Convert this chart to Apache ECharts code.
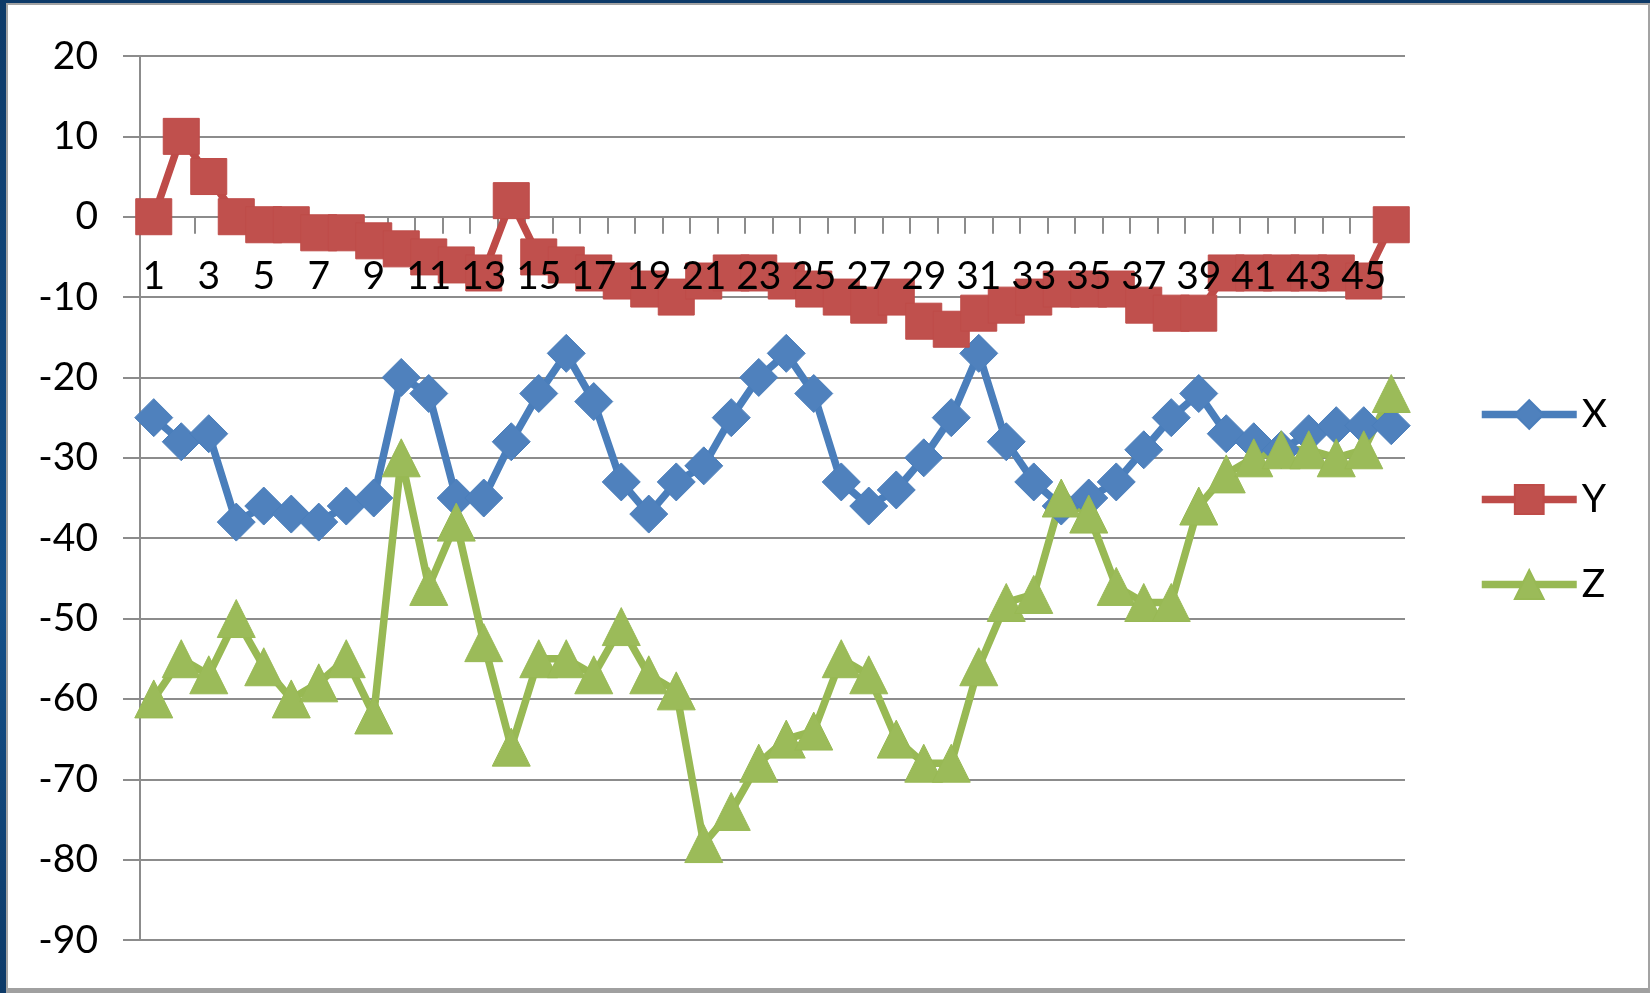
<!DOCTYPE html>
<html>
<head>
<meta charset="utf-8">
<title>X / Y / Z</title>
<script src="https://cdn.jsdelivr.net/npm/echarts@6/dist/echarts.min.js"></script>
<style>
  html, body { margin: 0; padding: 0; width: 1650px; height: 993px; overflow: hidden; }
  body { background: linear-gradient(180deg, #0d3a68 0%, #145089 60%, #0d3a68 100%); position: relative; }
  #frame {
    position: absolute; left: 6px; top: 3px; width: 1644px; height: 990px;
    background: #ffffff; border: 2px solid #a3a3a3; border-bottom: 5px solid #a0a0a0; box-sizing: border-box;
  }
  #chart { position: absolute; left: 0; top: 0; width: 1650px; height: 993px; }
</style>
</head>
<body>
<div id="frame"></div>
<div id="chart"></div>
<script>
// Sample index 1..46
const categories = Array.from({ length: 46 }, (_, i) => String(i + 1));

// Series values
const seriesX = [-25, -28, -27, -38, -36, -37, -38, -36, -35, -20,
                 -22, -35, -35, -28, -22, -17, -23, -33, -37, -33,
                 -31, -25, -20, -17, -22, -33, -36, -34, -30, -25,
                 -17, -28, -33, -36, -35, -33, -29, -25, -22, -27,
                 -28, -29, -27, -26, -26, -26];
const seriesY = [0, 10, 5, 0, -1, -1, -2, -2, -3, -4,
                 -5, -6, -7, 2, -5, -6, -7, -8, -9, -10,
                 -8, -7, -7, -8, -9, -10, -11, -10, -13, -14,
                 -12, -11, -10, -9, -9, -9, -11, -12, -12, -7,
                 -7, -7, -7, -7, -8, -1];
const seriesZ = [-60, -55, -57, -50, -56, -60, -58, -55, -62, -30,
                 -46, -38, -53, -66, -55, -55, -57, -51, -57, -59,
                 -78, -74, -68, -65, -64, -55, -57, -65, -68, -68,
                 -56, -48, -47, -35, -37, -46, -48, -48, -36, -32,
                 -30, -29, -29, -30, -29, -22];

// Value axis range
const yMin = -90;
const yMax = 20;
const yStep = 10;

const FONT = 'Lato, "Open Sans", sans-serif';
const FONT_SIZE = 39;
const GRID_GRAY = '#8c8c8c';
const TEXT = '#000000';
const LINE_W = 7.5;

// Plot box
const GRID = { left: 140, right: 245, top: 56, bottom: 53 };
const CHART_H = 993;
const plotHeight = CHART_H - GRID.top - GRID.bottom;
// The label-only category axis sits on the zero line: lift it from the bottom edge
const zeroLift = plotHeight * (0 - yMin) / (yMax - yMin);

const chart = echarts.init(document.getElementById('chart'), null, { renderer: 'canvas' });

function lineSeries(name, data, symbol, size, lineColor, fillColor) {
  return {
    name: name,
    type: 'line',
    data: data,
    symbol: symbol,
    symbolSize: size,
    showAllSymbol: true,
    lineStyle: { color: lineColor, width: LINE_W },
    itemStyle: { color: fillColor, borderColor: lineColor, borderWidth: 1 },
    emphasis: { disabled: true }
  };
}

chart.setOption({
  animation: false,
  backgroundColor: 'transparent',
  textStyle: { fontFamily: FONT },
  grid: Object.assign({ containLabel: false, outerBoundsMode: 'none' }, GRID),
  legend: {
    orient: 'vertical',
    left: 1478,
    top: 395,
    padding: 0,
    itemWidth: 95,
    itemHeight: 36,
    itemGap: 46,
    data: ['X', 'Y', 'Z'],
    lineStyle: { width: LINE_W },
    textStyle: { fontFamily: FONT, fontSize: FONT_SIZE, color: TEXT },
    selectedMode: false
  },
  xAxis: [
    {
      // axis line and category-boundary ticks on the zero line
      type: 'category',
      data: categories,
      boundaryGap: true,
      axisLine: { show: true, onZero: true, lineStyle: { color: GRID_GRAY, width: 2 } },
      axisTick: { show: true, interval: 0, length: 17, lineStyle: { color: GRID_GRAY, width: 2 } },
      axisLabel: { show: false },
      splitLine: { show: false }
    },
    {
      // labels every other category, drawn above the markers
      type: 'category',
      data: categories,
      position: 'bottom',
      offset: -zeroLift,
      boundaryGap: true,
      z: 10,
      axisLine: { show: false, onZero: false },
      axisTick: { show: false },
      axisLabel: { show: true, interval: 1, margin: 40, fontSize: FONT_SIZE, color: TEXT, fontFamily: FONT },
      splitLine: { show: false }
    }
  ],
  yAxis: {
    type: 'value',
    min: yMin,
    max: yMax,
    interval: yStep,
    axisLine: { show: true, lineStyle: { color: GRID_GRAY, width: 2 } },
    axisTick: { show: true, length: 17, lineStyle: { color: GRID_GRAY, width: 2 } },
    axisLabel: { margin: 42, fontSize: FONT_SIZE, color: TEXT, fontFamily: FONT },
    splitLine: { show: true, lineStyle: { color: GRID_GRAY, width: 2 } }
  },
  series: [
    lineSeries('X', seriesX, 'diamond', 38, '#4a7ebb', '#4f81bd'),
    lineSeries('Y', seriesY, 'rect', 36, '#be4b48', '#c0504d'),
    lineSeries('Z', seriesZ, 'triangle', 38, '#98b954', '#9bbb59')
  ]
});
</script>
</body>
</html>
